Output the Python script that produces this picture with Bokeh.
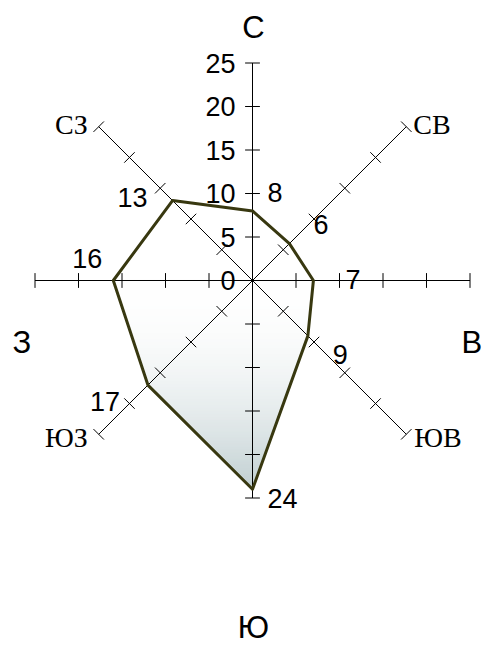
import numpy as np
from bokeh.plotting import figure
from bokeh.models import Range1d
from bokeh.embed import file_html
from bokeh.resources import INLINE
from bokeh.core.properties import value

# ---- data ----
directions = ["С", "СВ", "В", "ЮВ", "Ю", "ЮЗ", "З", "СЗ"]
angles_deg = [90, 45, 0, -45, -90, -135, 180, 135]
frequencies = [8, 6, 7, 9, 24, 17, 16, 13]
tick_values = [0, 5, 10, 15, 20, 25]
tick_labels = ["0", "5", "10", "15", "20", "25"]
r_max = 25

# ---- layout / style ----
W, H = 482, 655
S = 8.7            # px per unit
CX, CY = 252, 280  # centre in canvas px
SANS = "Liberation Sans"
SERIF = "Liberation Serif"
serif_dirs = {"СВ", "ЮВ", "ЮЗ", "СЗ"}
# data label offsets (px, screen: +x right, +y down) and alignment
val_offsets = [(15, -18, "left"), (24, -19, "left"), (32, -1, "left"), (25, 19, "left"),
               (15, 9, "left"), (-28, 16, "right"), (-26, -22, "center"), (-25, -3, "right")]
# direction label offsets from axis ends (px)
dir_offsets = [(1, -36, "center"), (7, -2, "left"), (-8.5, 62, "left"), (8, 3, "left"),
               (1, 129, "center"), (-11, 3, "right"), (-22.5, 62, "left"), (-11, -2, "right")]

p = figure(width=W, height=H, output_backend="svg", toolbar_location=None,
           x_range=Range1d(-CX / S, (W - CX) / S), y_range=Range1d(-(H - CY) / S, CY / S),
           x_axis_type=None, y_axis_type=None, min_border=0)
p.grid.visible = False
p.outline_line_color = None
p.background_fill_color = "white"
p.border_fill_color = "white"

th = np.radians(angles_deg)
f = np.array(frequencies, dtype=float)
px = f * np.cos(th)
py = f * np.sin(th)
poly = list(zip(px, py))


def clip(pts, y0, keep_above):
    out = []
    n = len(pts)
    for i in range(n):
        a = pts[i]
        b = pts[(i + 1) % n]
        ina = a[1] >= y0 if keep_above else a[1] <= y0
        inb = b[1] >= y0 if keep_above else b[1] <= y0
        if ina:
            out.append(a)
        if ina != inb:
            t = (y0 - a[1]) / (b[1] - a[1])
            out.append((a[0] + t * (b[0] - a[0]), y0))
    return out


# base white fill
p.patch(px, py, fill_color="white", line_color=None)

# gradient bands
C = np.array([192, 207, 209])
ymin = py.min()
nb = 70
edges = np.linspace(0, ymin, nb + 1)
bxs, bys, cols = [], [], []
for i in range(nb):
    top = edges[i] + 0.12
    bot = edges[i + 1]
    band = clip(clip(poly, bot, True), top, False)
    if len(band) < 3:
        continue
    t = min(max(-(0.5 * (edges[i] + edges[i + 1])) / (-ymin), 0), 1)
    k = t ** 2
    rgb = (255 - (255 - C) * k).astype(int)
    bxs.append([q[0] for q in band])
    bys.append([q[1] for q in band])
    cols.append("#%02x%02x%02x" % tuple(rgb))
p.patches(bxs, bys, fill_color=cols, line_color=None)

# axes
p.segment(x0=0, y0=0, x1=r_max * np.cos(th), y1=r_max * np.sin(th), line_color="black", line_width=1)

# ticks
h = 0.85
tx0, ty0, tx1, ty1 = [], [], [], []
for a in th:
    for r in tick_values[1:]:
        cx, cy = r * np.cos(a), r * np.sin(a)
        nx, ny = -np.sin(a), np.cos(a)
        tx0.append(cx - h * nx); ty0.append(cy - h * ny)
        tx1.append(cx + h * nx); ty1.append(cy + h * ny)
p.segment(x0=tx0, y0=ty0, x1=tx1, y1=ty1, line_color="black", line_width=1)

# polygon outline
p.patch(px, py, fill_color=None, line_color="#383810", line_width=3, line_join="round")

# tick labels on north axis
p.text(x=[-17 / S] * len(tick_values), y=tick_values, text=tick_labels,
       text_font=value(SANS), text_font_size="27px", text_align="right",
       text_baseline="middle", text_color="black")

# value labels
for i in range(len(frequencies)):
    dx, dy, al = val_offsets[i]
    p.text(x=[px[i] + dx / S], y=[py[i] - dy / S], text=[str(frequencies[i])],
           text_font=value(SANS), text_font_size="27px", text_align=al,
           text_baseline="middle", text_color="black")

# direction labels
for i, d in enumerate(directions):
    dx, dy, al = dir_offsets[i]
    ex, ey = r_max * np.cos(th[i]), r_max * np.sin(th[i])
    serif = d in serif_dirs
    p.text(x=[ex + dx / S], y=[ey - dy / S], text=[d],
           text_font=value(SERIF if serif else SANS),
           text_font_size="28px" if serif else "31px", text_align=al,
           text_baseline="middle", text_color="black")

open("out.html", "w").write(file_html(p, INLINE))
